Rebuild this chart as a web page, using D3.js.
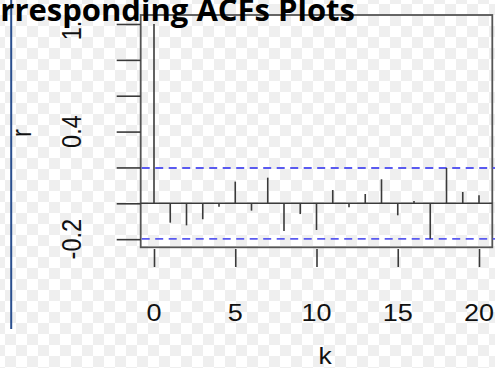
<!DOCTYPE html>
<html><head><meta charset="utf-8">
<script src="https://cdn.jsdelivr.net/npm/d3@7"></script>
<style>html,body{margin:0;padding:0;overflow:hidden;background:#fff}</style>
</head><body>
<svg id="c" width="495" height="368"></svg>
<script>
const lags = d3.range(0, 21);
const acf = [1, -0.108, -0.123, -0.089, -0.019, 0.121, -0.041, 0.143, -0.155, -0.06, -0.149,
             0.074, -0.022, 0.052, 0.134, -0.067, 0.013, -0.198, 0.197, 0.063, 0.045];
const ciBounds = [0.197, -0.198];
const xTicks = [0, 5, 10, 15, 20];
const yTicks = [-0.2, 0, 0.2, 0.4, 0.6, 0.8, 1.0];
const yTickLabels = ["-0.2", "0.4", "1.0"];
const yTickLabelValues = [-0.2, 0.4, 1.0];
const title = "Corresponding ACFs Plots";

const svg = d3.select("#c");
const defs = svg.append("defs");
const pat = defs.append("pattern").attr("id","chk").attr("patternUnits","userSpaceOnUse")
  .attr("width",22).attr("height",22).attr("x",5).attr("y",4);
pat.append("rect").attr("width",22).attr("height",22).attr("fill","#ffffff");
pat.append("rect").attr("width",11).attr("height",11).attr("fill","#efefef");
pat.append("rect").attr("x",11).attr("y",11).attr("width",11).attr("height",11).attr("fill","#efefef");
svg.append("rect").attr("width",495).attr("height",368).attr("fill","url(#chk)");
defs.append("clipPath").attr("id","lblclip").append("rect").attr("x",0).attr("y",19).attr("width",495).attr("height",349);

const x = d3.scaleLinear().domain([0, 20]).range([154, 479]);
const y = d3.scaleLinear().domain([0, 1]).range([203.3, 24]);
const box = {l: 140.7, r: 492.3, t: 15, b: 247.3};
const ink = "#3a3a3a";
const font = "Liberation Sans, Arial, sans-serif";

// plot box
svg.append("rect").attr("x",box.l).attr("y",box.t).attr("width",box.r-box.l).attr("height",box.b-box.t)
  .attr("fill","none").attr("stroke","#555").attr("stroke-width",1.8);

// y ticks (no axis line)
const yAxis = d3.axisLeft(y).tickValues(yTicks).tickSize(24).tickFormat("");
const gy = svg.append("g").attr("transform",`translate(${box.l},0)`).call(yAxis);
gy.select(".domain").remove();
gy.selectAll(".tick line").attr("stroke",ink).attr("stroke-width",1.6);

// y tick labels, rotated, horizontally stretched
const gyl = svg.append("g").attr("clip-path","url(#lblclip)");
yTickLabels.forEach((t, i) => {
  gyl.append("text")
    .attr("transform",`translate(81,${y(yTickLabelValues[i])}) scale(1.15,1) rotate(-90)`)
    .attr("text-anchor","middle")
    .attr("font-family",font)
    .attr("font-size",23.5).attr("fill","#111")
    .text(t);
});

// x ticks (no axis line)
const xAxis = d3.axisBottom(x).tickValues(xTicks).tickSize(18).tickFormat("");
const gx = svg.append("g").attr("transform",`translate(0,249)`).call(xAxis);
gx.select(".domain").remove();
gx.selectAll(".tick line").attr("stroke",ink).attr("stroke-width",1.6);
xTicks.forEach(v => {
  svg.append("text")
    .attr("transform",`translate(${x(v)},321) scale(1.15,1)`)
    .attr("text-anchor","middle")
    .attr("font-family",font)
    .attr("font-size",23.5).attr("fill","#111")
    .text(v);
});

// axis titles
svg.append("text").attr("transform","translate(325,364) scale(1.15,1)").attr("text-anchor","middle")
  .attr("font-family",font).attr("font-size",23).attr("fill","#111").text("k");
svg.append("text").attr("transform","translate(31,133) scale(1.15,1) rotate(-90)").attr("text-anchor","middle")
  .attr("font-family",font).attr("font-size",23.5).attr("fill","#111").text("r");

// zero line
svg.append("line").attr("x1",box.l).attr("x2",box.r).attr("y1",y(0)).attr("y2",y(0))
  .attr("stroke",ink).attr("stroke-width",1.6);

// confidence bounds
svg.selectAll("line.ci").data(ciBounds).join("line").attr("class","ci")
  .attr("x1",box.l+1).attr("x2",495).attr("y1",d=>y(d)).attr("y2",d=>y(d))
  .attr("stroke","#5a5af0").attr("stroke-width",1.8).attr("stroke-dasharray","8,5.5");

// spikes
svg.selectAll("line.spike").data(lags).join("line").attr("class","spike")
  .attr("x1",d=>x(d)).attr("x2",d=>x(d)).attr("y1",y(0)).attr("y2",d=>y(acf[d]))
  .attr("stroke",ink).attr("stroke-width",1.6);

// slide decorations: blue vertical rule and overlapping title
svg.append("line").attr("x1",11.2).attr("x2",11.2).attr("y1",0).attr("y2",329)
  .attr("stroke","#2a4f8f").attr("stroke-width",2);
svg.append("text").attr("x",355).attr("y",21).attr("text-anchor","end")
  .attr("font-family","Open Sans, sans-serif").attr("font-weight","bold")
  .attr("font-size",31).attr("fill","#000").text(title);
</script>
</body></html>
